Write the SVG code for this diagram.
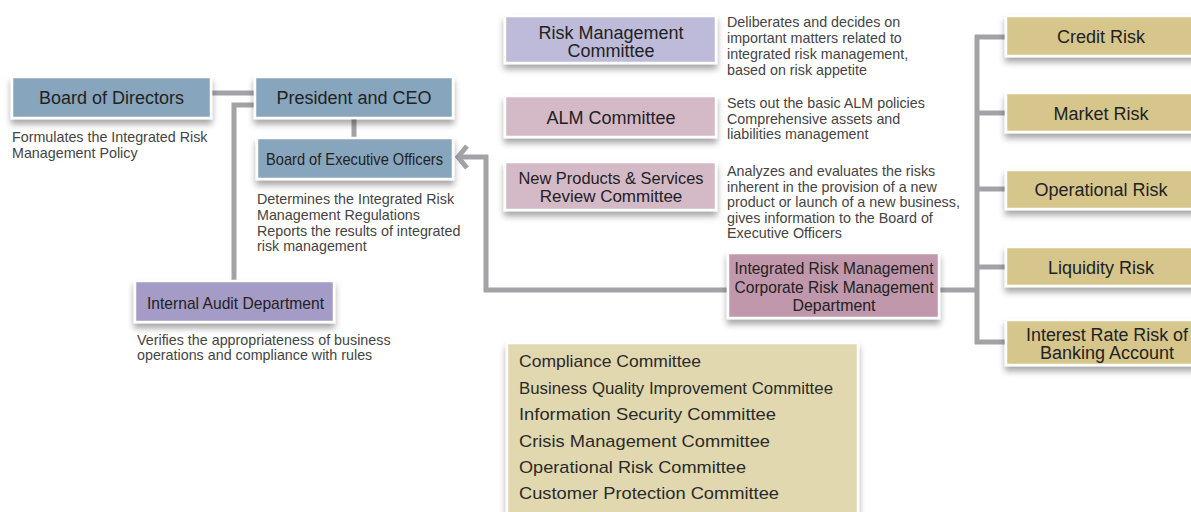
<svg xmlns="http://www.w3.org/2000/svg" width="1191" height="512" viewBox="0 0 1191 512">
<defs>
<filter id="sh" x="-10%" y="-20%" width="120%" height="160%">
<feDropShadow dx="0" dy="5" stdDeviation="3" flood-color="#000" flood-opacity="0.35"/>
</filter>
<style>
.box{stroke:#fff;stroke-width:2.5;filter:url(#sh)}
.blue{fill:#87a6bd}
.lav{fill:#a49bc6}
.rmc{fill:#bebbda}
.pink{fill:#d4b9c7}
.irm{fill:#c097ab}
.risk{fill:#d6c68c}
.comm{fill:#e1d8b0}
.lbl{font-family:"Liberation Sans",Arial,sans-serif;font-size:18px;fill:#222}
.cond{font-family:"Liberation Sans",Arial,sans-serif;font-size:17px;fill:#222}
.lc{text-anchor:middle}
.desc{font-family:"Liberation Sans",Arial,sans-serif;font-size:14.3px;fill:#444}
.cl{font-family:"Liberation Sans",Arial,sans-serif;font-size:17px;fill:#2a2a2a}
.conn{fill:none;stroke:#a3a3a7;stroke-width:5}
</style>
</defs>
<rect width="1191" height="512" fill="#fff"/>

<g id="connectors">
<line class="conn" x1="211" y1="93" x2="255" y2="93"/>
<polyline class="conn" points="255,105 234,105 234,281"/>
<line class="conn" x1="354" y1="118" x2="354" y2="138"/>
<polyline class="conn" points="728,290 486,290 486,157 459,157"/>
<polyline class="conn" points="467,146 458,157 467,168" stroke-linejoin="miter"/>
<line class="conn" x1="939" y1="290" x2="977" y2="290"/>
<line class="conn" x1="977" y1="35" x2="977" y2="344"/>
<line class="conn" x1="975" y1="37" x2="1006" y2="37"/>
<line class="conn" x1="977" y1="113" x2="1006" y2="113"/>
<line class="conn" x1="977" y1="189" x2="1006" y2="189"/>
<line class="conn" x1="977" y1="267" x2="1006" y2="267"/>
<line class="conn" x1="975" y1="342" x2="1006" y2="342"/>
</g>

<g id="board-of-directors">
<rect class="box blue" x="12" y="77" width="199" height="41"/>
<text class="lbl lc" x="111.5" y="104">Board of Directors</text>
<text class="desc" x="12" y="142">Formulates the Integrated Risk</text>
<text class="desc" x="12" y="158">Management Policy</text>
</g>

<g id="president">
<rect class="box blue" x="255" y="77" width="198" height="41"/>
<text class="lbl lc" x="354" y="104">President and CEO</text>
</g>

<g id="board-exec">
<rect class="box blue" x="257" y="138" width="196" height="41"/>
<text class="cond" x="266" y="165" textLength="177" lengthAdjust="spacingAndGlyphs">Board of Executive Officers</text>
<text class="desc" x="257" y="204">Determines the Integrated Risk</text>
<text class="desc" x="257" y="220">Management Regulations</text>
<text class="desc" x="257" y="236">Reports the results of integrated</text>
<text class="desc" x="257" y="251">risk management</text>
</g>

<g id="internal-audit">
<rect class="box lav" x="135" y="281" width="199" height="41"/>
<text class="cond" x="147" y="309" textLength="177" lengthAdjust="spacingAndGlyphs">Internal Audit Department</text>
<text class="desc" x="137" y="345">Verifies the appropriateness of business</text>
<text class="desc" x="137" y="360">operations and compliance with rules</text>
</g>

<g id="risk-mgmt-committee">
<rect class="box rmc" x="505" y="16" width="211" height="47"/>
<text class="lbl lc" x="611" y="39">Risk Management</text>
<text class="lbl lc" x="611" y="57">Committee</text>
<text class="desc" x="727" y="27">Deliberates and decides on</text>
<text class="desc" x="727" y="43">important matters related to</text>
<text class="desc" x="727" y="59">integrated risk management,</text>
<text class="desc" x="727" y="75">based on risk appetite</text>
</g>

<g id="alm-committee">
<rect class="box pink" x="505" y="96" width="211" height="41"/>
<text class="lbl lc" x="611" y="124">ALM Committee</text>
<text class="desc" x="727" y="108">Sets out the basic ALM policies</text>
<text class="desc" x="727" y="124">Comprehensive assets and</text>
<text class="desc" x="727" y="139">liabilities management</text>
</g>

<g id="new-products-committee">
<rect class="box pink" x="505" y="162" width="211" height="48"/>
<text class="cond lc" x="611" y="184" textLength="185" lengthAdjust="spacingAndGlyphs">New Products &amp; Services</text>
<text class="cond lc" x="611" y="202">Review Committee</text>
<text class="desc" x="727" y="176">Analyzes and evaluates the risks</text>
<text class="desc" x="727" y="191.5">inherent in the provision of a new</text>
<text class="desc" x="727" y="207">product or launch of a new business,</text>
<text class="desc" x="727" y="222.5">gives information to the Board of</text>
<text class="desc" x="727" y="238">Executive Officers</text>
</g>

<g id="integrated-risk-dept">
<rect class="box irm" x="728" y="253" width="211" height="65"/>
<text class="cond lc" x="834" y="274" textLength="199" lengthAdjust="spacingAndGlyphs">Integrated Risk Management</text>
<text class="cond lc" x="834" y="293" textLength="199" lengthAdjust="spacingAndGlyphs">Corporate Risk Management</text>
<text class="cond lc" x="834" y="311" textLength="83" lengthAdjust="spacingAndGlyphs">Department</text>
</g>

<g id="credit-risk">
<rect class="box risk" x="1006" y="16" width="192" height="40"/>
<text class="lbl lc" x="1101" y="43">Credit Risk</text>
</g>
<g id="market-risk">
<rect class="box risk" x="1006" y="93" width="192" height="39"/>
<text class="lbl lc" x="1101" y="120">Market Risk</text>
</g>
<g id="operational-risk">
<rect class="box risk" x="1006" y="170" width="192" height="39"/>
<text class="lbl lc" x="1101" y="196">Operational Risk</text>
</g>
<g id="liquidity-risk">
<rect class="box risk" x="1006" y="247" width="192" height="39"/>
<text class="lbl lc" x="1101" y="274">Liquidity Risk</text>
</g>
<g id="interest-rate-risk">
<rect class="box risk" x="1006" y="320" width="192" height="45"/>
<text class="lbl lc" x="1107" y="341" textLength="162" lengthAdjust="spacingAndGlyphs">Interest Rate Risk of</text>
<text class="lbl lc" x="1107" y="359">Banking Account</text>
</g>

<g id="other-committees">
<rect class="box comm" x="507" y="343" width="351" height="175"/>
<text class="cl" x="519" y="367" textLength="182" lengthAdjust="spacingAndGlyphs">Compliance Committee</text>
<text class="cl" x="519" y="393.5" textLength="314" lengthAdjust="spacingAndGlyphs">Business Quality Improvement Committee</text>
<text class="cl" x="519" y="420" textLength="257" lengthAdjust="spacingAndGlyphs">Information Security Committee</text>
<text class="cl" x="519" y="446.5" textLength="251" lengthAdjust="spacingAndGlyphs">Crisis Management Committee</text>
<text class="cl" x="519" y="473" textLength="227" lengthAdjust="spacingAndGlyphs">Operational Risk Committee</text>
<text class="cl" x="519" y="499" textLength="260" lengthAdjust="spacingAndGlyphs">Customer Protection Committee</text>
</g>
</svg>
